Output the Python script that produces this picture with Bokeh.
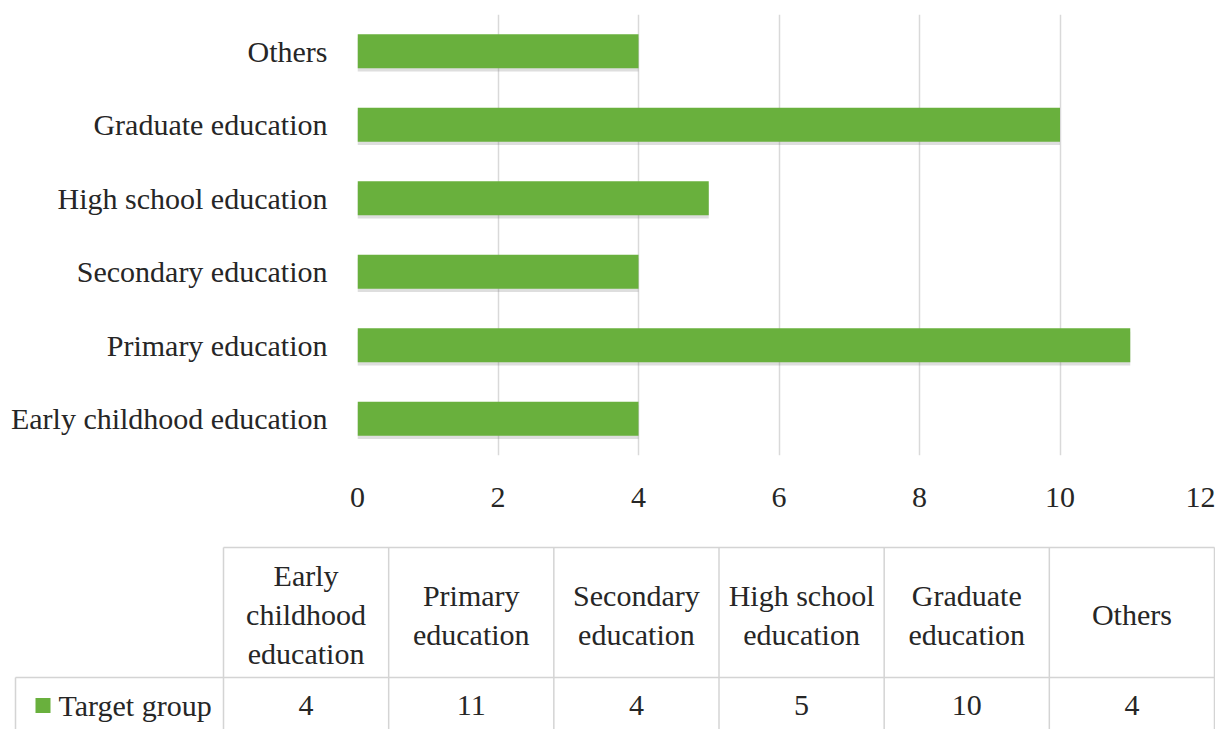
from bokeh.plotting import figure
from bokeh.models import FactorRange, Range1d, FixedTicker
from bokeh.transform import dodge
from bokeh.core.properties import value
from bokeh.embed import file_html
from bokeh.resources import INLINE

# ---------------- data ----------------
categories = ["Early childhood education", "Primary education", "Secondary education",
              "High school education", "Graduate education", "Others"]
counts = [4, 11, 4, 5, 10, 4]
series_name = "Target group"
table_headers = ["Early\nchildhood\neducation", "Primary\neducation", "Secondary\neducation",
                 "High school\neducation", "Graduate\neducation", "Others"]
x_ticks = [0, 2, 4, 6, 8, 10, 12]

# ---------------- style ----------------
FONT = "Liberation Serif"
FS = "30px"
TXT = "#262626"
GRID = "#d9d9d9"
BAR = "#69b03d"
W = 1215
SPLIT = 540

# ---------------- bar chart ----------------
p = figure(width=W, height=SPLIT, y_range=FactorRange(factors=categories),
           x_range=Range1d(0, 12), output_backend="svg", toolbar_location=None,
           min_border_left=357, min_border_right=W - 1200, min_border_top=14,
           min_border_bottom=SPLIT - 455)
p.outline_line_color = None

src = dict(cat=categories, val=counts)
# soft shadow
p.hbar(y=dodge("cat", -0.045, range=p.y_range), left=0, right="val", height=0.46,
       source=src, fill_color="#7a7a7a", fill_alpha=0.25, line_color=None)
p.hbar(y="cat", left=0, right="val", height=0.46, source=src,
       fill_color=BAR, line_color=None)

p.xaxis.ticker = FixedTicker(ticks=x_ticks)
p.xgrid.ticker = FixedTicker(ticks=x_ticks)
p.xgrid.grid_line_color = GRID
p.xgrid.grid_line_width = 1.5
p.ygrid.grid_line_color = None
for ax in (p.xaxis[0], p.yaxis[0]):
    ax.axis_line_color = None
    ax.major_tick_line_color = None
    ax.minor_tick_line_color = None
    ax.major_tick_out = 0
    ax.major_tick_in = 0
    ax.major_label_text_font = FONT
    ax.major_label_text_font_size = FS
    ax.major_label_text_color = TXT
p.xaxis.major_label_standoff = 32
p.yaxis.major_label_standoff = 30

# ---------------- data table ----------------
Y0, Y1 = SPLIT, 729
t = figure(width=W, height=Y1 - Y0, x_range=Range1d(0, W), y_range=Range1d(Y1, Y0),
           output_backend="svg", toolbar_location=None,
           x_axis_location=None, y_axis_location=None,
           min_border_left=0, min_border_right=0, min_border_top=0, min_border_bottom=0)
t.outline_line_color = None
t.xgrid.grid_line_color = None
t.ygrid.grid_line_color = None

n = len(categories)
tab_left, tab_right = 223, 1214
row_left = 15
top_y, sep_y, bot_y = 547, 677, Y1
col_w = (tab_right - tab_left) / n
edges = [tab_left + i * col_w for i in range(n + 1)]
centers = [tab_left + (i + 0.5) * col_w for i in range(n)]

LINE = "#d4d4d4"
sx0 = [tab_left, row_left] + edges + [row_left]
sy0 = [top_y, sep_y] + [top_y] * (n + 1) + [sep_y]
sx1 = [tab_right, tab_right] + edges + [row_left]
sy1 = [top_y, sep_y] + [bot_y] * (n + 1) + [bot_y]
t.segment(x0=sx0, y0=sy0, x1=sx1, y1=sy1, line_color=LINE, line_width=1.5)

hx, hy, ht = [], [], []
for c, h in zip(centers, table_headers):
    lines = h.split("\n")
    m = len(lines)
    for i, ln in enumerate(lines):
        hx.append(c)
        hy.append(614 + (i - (m - 1) / 2) * 39)
        ht.append(ln)
t.text(x=hx, y=hy, text=ht, text_align="center", text_baseline="middle",
       text_font=value(FONT), text_font_size=FS, text_color=TXT)

t.text(x=centers, y=[705] * n, text=[str(v) for v in counts], text_align="center",
       text_baseline="middle", text_font=value(FONT), text_font_size=FS, text_color=TXT)

t.scatter(x=[42.5], y=[705], marker="square", size=15, fill_color=BAR, line_color=None)
t.text(x=[58], y=[705], text=[series_name], text_align="left", text_baseline="middle",
       text_font=value(FONT), text_font_size=FS, text_color=TXT)

open("out.html", "w").write(file_html([p, t], INLINE))
